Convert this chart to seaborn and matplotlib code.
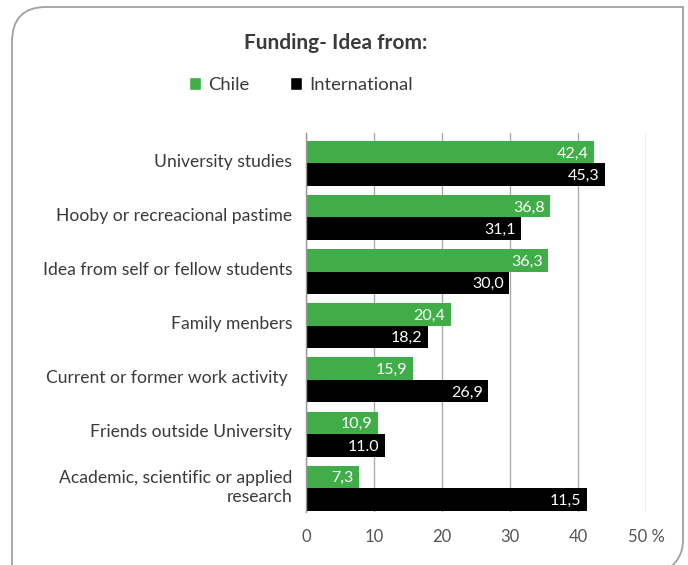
import pandas as pd
import matplotlib.pyplot as plt
import seaborn as sns
from matplotlib.path import Path
from matplotlib.patches import PathPatch

CHILE_GREEN = "#41AD49"
TEXT_GREY = "#3a3a3a"

categories = ["University studies", "Hooby or recreacional pastime",
              "Idea from self or fellow students", "Family menbers",
              "Current or former work activity ", "Friends outside University",
              "Academic, scientific or applied\nresearch"]
# bar lengths as drawn in the picture
chile_vals = [42.4, 35.9, 35.6, 21.3, 15.7, 10.6, 7.8]
intl_vals = [44.0, 31.6, 29.9, 17.9, 26.8, 11.6, 41.3]
# printed labels
chile_labels = ["42,4", "36,8", "36,3", "20,4", "15,9", "10,9", "7,3"]
intl_labels = ["45,3", "31,1", "30,0", "18,2", "26,9", "11.0", "11,5"]
xticks = [0, 10, 20, 30, 40, 50]
xtick_labels = ["0", "10", "20", "30", "40", "50 %"]

sns.set_theme(style="white")
plt.rcParams['font.family'] = ['Lato', 'DejaVu Sans']

df = pd.DataFrame({
    "category": categories * 2,
    "value": chile_vals + intl_vals,
    "origin": ["Chile"] * 7 + ["International"] * 7,
})

fig = plt.figure(figsize=(6.88, 5.65), dpi=100)
ax = fig.add_axes([306 / 688, 1 - 512 / 565, 340 / 688, 379 / 565])

sns.barplot(data=df, x="value", y="category", hue="origin", orient="h",
            palette={"Chile": CHILE_GREEN, "International": "black"},
            width=0.83, saturation=1, ax=ax, legend=True)

# bars sit slightly low in each band
for cont, labels in zip(ax.containers, [chile_labels, intl_labels]):
    for p, lab in zip(cont, labels):
        p.set_y(p.get_y() + 0.06)
        p.set_linewidth(0)
        ax.annotate(lab, (p.get_width(), p.get_y() + p.get_height() / 2),
                    xytext=(-4, -1), textcoords="offset points",
                    ha="right", va="center", color="white", fontsize=11.5)

ax.set_xlim(0, 50)
ax.set_ylim(6.5, -0.5)
ax.set_xticks(xticks)
ax.set_xticklabels(xtick_labels, fontsize=12, color="#555555")
ax.tick_params(axis="x", length=0, pad=12)
ax.set_yticks(range(7))
ax.set_yticklabels(categories, fontsize=12.6, color=TEXT_GREY, ha="right",
                   multialignment="right")
ax.tick_params(axis="y", which="major", length=0, pad=10)
ax.set_yticks([i - 0.5 for i in range(8)], minor=True)
ax.tick_params(axis="y", which="minor", length=5, color="#999999", width=1)
ax.xaxis.grid(True, color="#aaaaaa", linewidth=1)
ax.set_axisbelow(True)
ax.set_xlabel("")
ax.set_ylabel("")
for s in ["top", "right", "bottom"]:
    ax.spines[s].set_visible(False)
ax.spines["left"].set_color("#999999")
ax.spines["left"].set_linewidth(1)

handles, labs = ax.get_legend_handles_labels()
ax.legend(handles, labs, loc="center", bbox_to_anchor=(301 / 688, 1 - 85 / 565),
          bbox_transform=fig.transFigure, ncol=2, frameon=False,
          handlelength=0.65, handleheight=0.65, handletextpad=0.4,
          columnspacing=2.2, fontsize=13.3, labelcolor=TEXT_GREY)

fig.text(336 / 688, 1 - 43 / 565, "Funding- Idea from:", ha="center", va="center",
         fontsize=15, fontweight="bold", color=TEXT_GREY)

# rounded frame around the chart
def fxy(x, y):
    return (x / 688, 1 - y / 565)

verts = [fxy(12, 570), fxy(12, 42), fxy(12, 7), fxy(46, 7), fxy(683, 7),
         fxy(683, 540), fxy(683, 560), fxy(666, 570)]
codes = [Path.MOVETO, Path.LINETO, Path.CURVE3, Path.CURVE3, Path.LINETO,
         Path.LINETO, Path.CURVE3, Path.CURVE3]
fig.add_artist(PathPatch(Path(verts, codes), transform=fig.transFigure,
                         fill=False, edgecolor="#a0a0a0", linewidth=1.3))

plt.savefig("out.png", dpi=100)
